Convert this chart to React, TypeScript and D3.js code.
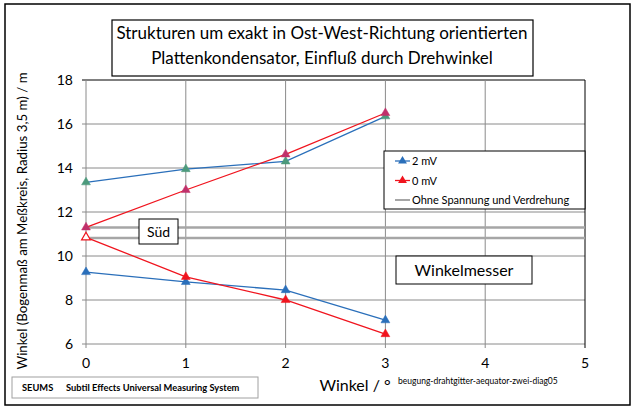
import * as d3 from 'd3';

// angle steps (x) and measured values
const angles = [0, 1, 2, 3];
const upper2mV = [13.35, 13.95, 14.3, 16.35];
const upper0mV = [11.3, 13.0, 14.62, 16.5];
const lower2mV = [9.27, 8.82, 8.45, 7.08];
const lower0mV = [10.85, 9.05, 8.0, 6.45];
const referenceLevels = [11.3, 10.82]; // "Ohne Spannung und Verdrehung"

const xTicks = [0, 1, 2, 3, 4, 5];
const yTicks = [6, 8, 10, 12, 14, 16, 18];

const legendItems = ['2 mV', '0 mV', 'Ohne Spannung und Verdrehung'];

const font = 'Lato, "Open Sans", sans-serif';
const BLUE = '#2a6fba';
const RED = '#f0141e';

const App = () => {
  const W = 635, H = 411;
  const x = d3.scaleLinear().domain([0, 5]).range([86, 585]);
  const y = d3.scaleLinear().domain([6, 18]).range([344, 80]);

  const line = d3.line<number>()
    .x((d, i) => x(angles[i]))
    .y(d => y(d));

  const tri = d3.symbol().type(d3.symbolTriangle).size(34)();

  const series = [
    { data: upper2mV, stroke: BLUE, marker: '#4c9a7c' },
    { data: upper0mV, stroke: RED, marker: '#c0306a' },
    { data: lower2mV, stroke: BLUE, marker: BLUE },
    { data: lower0mV, stroke: RED, marker: RED },
  ];

  return (
    <svg width={W} height={H} style={{ position: 'absolute', left: 0, top: 0, background: '#fff' }} fontFamily={font}>
      <rect x={5} y={4} width={625} height={401} fill="#fff" stroke="#000" strokeWidth={1.5} />

      {/* title */}
      <rect x={112} y={20} width={421} height={56} fill="#fff" stroke="#000" strokeWidth={1.2} />
      <text x={322} y={39} textAnchor="middle" fontSize={17}>Strukturen um exakt in Ost-West-Richtung orientierten</text>
      <text x={322} y={64} textAnchor="middle" fontSize={17}>Plattenkondensator, Einfluß durch Drehwinkel</text>

      {/* grid */}
      {yTicks.map(t => (
        <g key={'y' + t}>
          <line x1={x(0) - 4} x2={x(5)} y1={y(t)} y2={y(t)} stroke={t === 18 ? '#000' : '#8a8a8a'} strokeWidth={1} />
          <text x={73} y={y(t) + 5} textAnchor="end" fontSize={14}>{t}</text>
        </g>
      ))}
      {xTicks.map(t => (
        <g key={'x' + t}>
          <line x1={x(t)} x2={x(t)} y1={y(18)} y2={y(6) + 4} stroke={t === 5 ? '#000' : '#8a8a8a'} strokeWidth={1} />
          <text x={x(t)} y={368} textAnchor="middle" fontSize={14}>{t}</text>
        </g>
      ))}

      {/* reference lines */}
      {referenceLevels.map((v, i) => (
        <line key={'r' + i} x1={x(0)} x2={x(5)} y1={y(v)} y2={y(v)} stroke="#a6a6a6" strokeWidth={2.5} />
      ))}

      {/* data */}
      {series.map((s, i) => (
        <g key={'s' + i}>
          <path d={line(s.data) || ''} fill="none" stroke={s.stroke} strokeWidth={1.3} />
          {s.data.map((v, j) => (
            <path key={j} d={tri} transform={`translate(${x(angles[j])},${y(v)})`}
              fill={i === 3 && j === 0 ? '#fff' : s.marker} stroke={s.marker} strokeWidth={i === 3 && j === 0 ? 1.2 : 0.5} />
          ))}
        </g>
      ))}

      {/* Süd label */}
      <rect x={139} y={219} width={39} height={25} fill="#fff" stroke="#000" strokeWidth={1} />
      <text x={158.5} y={237} textAnchor="middle" fontSize={14}>Süd</text>

      {/* Winkelmesser label */}
      <rect x={396} y={256} width={136} height={28} fill="#fff" stroke="#000" strokeWidth={1} />
      <text x={464} y={276} textAnchor="middle" fontSize={16}>Winkelmesser</text>

      {/* legend */}
      <rect x={384} y={151} width={201} height={58} fill="#fff" stroke="#000" strokeWidth={1} />
      {legendItems.map((label, i) => {
        const ly = 161 + i * 19.5;
        const col = i === 0 ? BLUE : i === 1 ? RED : '#a6a6a6';
        return (
          <g key={label}>
            <line x1={395} x2={410} y1={ly} y2={ly} stroke={col} strokeWidth={i === 2 ? 2 : 1.3} />
            {i < 2 && <path d={tri} transform={`translate(402.5,${ly})`} fill={col} />}
            <text x={412} y={ly + 4} fontSize={11}>{label}</text>
          </g>
        );
      })}

      {/* axis titles */}
      <text transform={`translate(27,${221}) rotate(-90)`} textAnchor="middle" fontSize={13.3}>
        Winkel (Bogenmaß am Meßkreis, Radius 3,5 m) / m
      </text>
      <text x={355} y={391} textAnchor="middle" fontSize={16}>Winkel / °</text>
      <text x={398} y={384} fontSize={8.5}>beugung-drahtgitter-aequator-zwei-diag05</text>

      {/* footer box */}
      <rect x={12} y={377} width={246} height={21} fill="#fff" stroke="#a0a0a0" strokeWidth={1} />
      <text x={22} y={391} fontSize={9.3} fontWeight="bold">SEUMS</text>
      <text x={66} y={391} fontSize={9.3} fontWeight="bold">Subtil Effects Universal Measuring System</text>
    </svg>
  );
};

export default App;
